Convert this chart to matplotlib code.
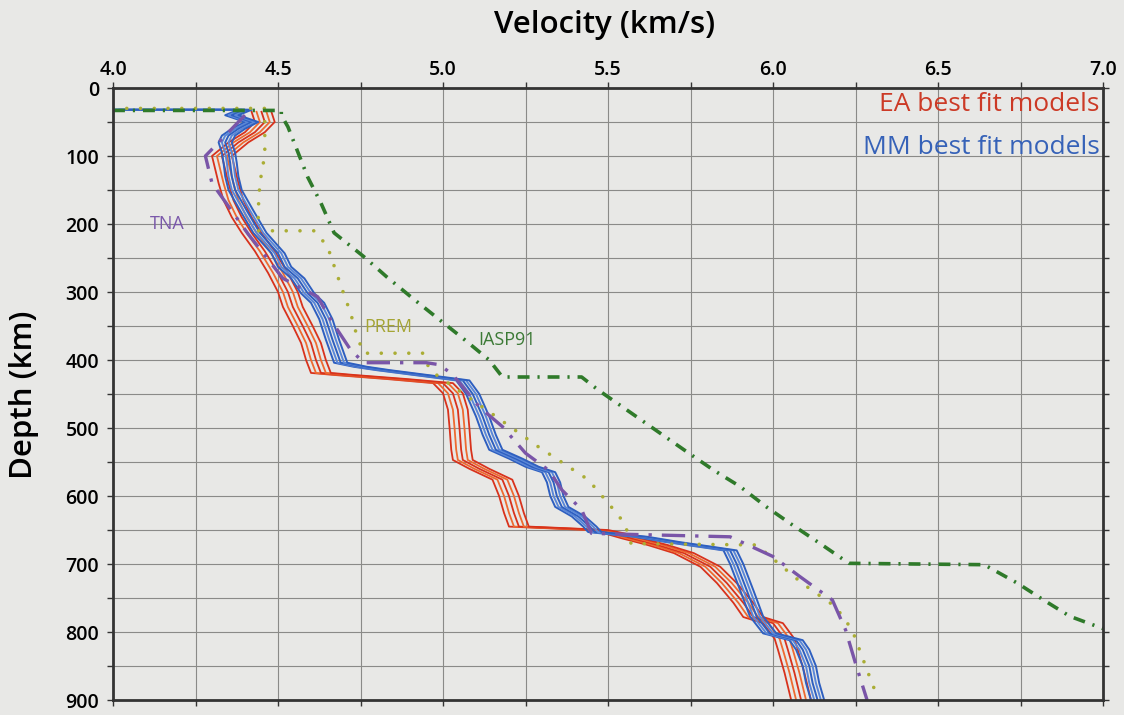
import numpy as np
import matplotlib
matplotlib.use('Agg')
import matplotlib.pyplot as plt

plt.rcParams['font.family'] = ['Open Sans', 'DejaVu Sans']

# ---- reference models (velocity km/s, depth km) ----
iasp_v = [4.00, 4.51, 4.51, 4.53, 4.59, 4.63, 4.67, 4.76, 4.83, 4.91, 4.99, 5.06, 5.14, 5.18,
          5.42, 5.47, 5.60, 5.73, 5.82, 5.90, 5.98, 6.06, 6.14, 6.23, 6.64, 6.74, 6.82, 6.90, 7.00]
iasp_d = [33, 33, 40, 57, 131, 169, 213, 248, 278, 310, 341, 368, 400, 425,
          425, 444, 488, 532, 562, 586, 616, 643, 669, 699, 701, 728, 753, 777, 795]

prem_v = [4.00, 4.46, 4.46, 4.445, 4.44, 4.44, 4.61, 4.65, 4.69, 4.72, 4.74, 4.76, 4.94, 4.96,
          5.06, 5.16, 5.29, 5.44, 5.51, 5.55, 5.57, 5.95, 6.09, 6.19, 6.24, 6.285, 6.32]
prem_d = [30, 30, 98, 140, 180, 210, 210, 233, 290, 331, 366, 390, 390, 415,
          449, 483, 528, 576, 616, 640, 670, 672, 729, 763, 797, 856, 900]

tna_v = [4.40, 4.28, 4.30, 4.41, 4.515, 4.62, 4.66, 4.72, 4.76, 4.95, 4.99, 5.03, 5.11, 5.18,
         5.25, 5.32, 5.36, 5.42, 5.45, 5.87, 6.00, 6.08, 6.18, 6.22, 6.25, 6.285]
tna_d = [40, 100, 140, 215, 280, 307, 341, 385, 404, 404, 407, 422, 469, 498,
         537, 562, 591, 620, 655, 660, 689, 718, 753, 797, 846, 900]

# ---- best fit models (centre profile + spread of the bundle) ----
ea_d = [35, 50, 65, 80, 100, 120, 140, 165, 190, 213, 240, 272, 300, 322, 350, 375, 400, 419,
        422, 425, 428, 431, 434, 449, 473, 500, 532, 547, 560, 576, 600, 625, 645, 650, 655,
        662, 672, 684, 704, 728, 757, 778, 787, 810, 826, 860, 900]
ea_v = [4.45, 4.46, 4.43, 4.38, 4.33, 4.34, 4.35, 4.365, 4.39, 4.42, 4.46, 4.50, 4.53, 4.545,
        4.575, 4.60, 4.615, 4.63, 4.70, 4.78, 4.86, 4.93, 5.00, 5.03, 5.045, 5.05, 5.055, 5.06,
        5.11, 5.18, 5.20, 5.215, 5.23, 5.47, 5.52, 5.57, 5.65, 5.73, 5.81, 5.86, 5.91, 5.94,
        6.00, 6.035, 6.045, 6.065, 6.085]
ea_dv = [-0.03, -0.015, 0.0, 0.015, 0.03]

mm_d = [32, 32, 40, 50, 60, 70, 80, 95, 110, 130, 150, 180, 213, 243, 263, 280, 302, 316, 340,
        370, 404, 410, 415, 420, 425, 430, 450, 483, 510, 532, 545, 557, 565, 580, 600, 616,
        630, 645, 653, 660, 668, 675, 680, 700, 738, 777, 802, 812, 826, 850, 875, 900]
mm_v = [4.00, 4.40, 4.36, 4.42, 4.38, 4.35, 4.34, 4.35, 4.355, 4.36, 4.37, 4.405, 4.445, 4.50,
        4.52, 4.56, 4.59, 4.62, 4.645, 4.665, 4.69, 4.75, 4.82, 4.90, 4.98, 5.06, 5.09, 5.12,
        5.14, 5.16, 5.22, 5.27, 5.32, 5.335, 5.345, 5.36, 5.41, 5.445, 5.46, 5.60, 5.70, 5.80,
        5.87, 5.89, 5.92, 5.95, 5.99, 6.07, 6.09, 6.11, 6.12, 6.135]
mm_dv = [-0.02, -0.01, 0.0, 0.01, 0.02]

bg = '#e8e8e6'
fig = plt.figure(figsize=(11.24, 7.15), dpi=100, facecolor=bg)
ax = fig.add_axes([113/1124, 15/715, 990/1124, 612/715], facecolor=bg)

ea_cols = ['#d8321c', '#ee6a30']
for i, dv in enumerate(ea_dv):
    ax.plot(np.array(ea_v) + dv, ea_d, color=ea_cols[i % 2], lw=1.3)

mm_cols = ['#2e5fc0', '#5a87d8']
for i, dv in enumerate(mm_dv):
    ax.plot(np.array(mm_v) + dv, mm_d, color=mm_cols[i % 2], lw=1.4)

ax.plot(prem_v, prem_d, color='#aaad35', lw=2.6, linestyle=(0, (0.01, 3.8)),
        dash_capstyle='round')
ax.plot(tna_v, tna_d, color='#7a55a8', lw=2.4, linestyle=(0, (7, 3, 1, 3)))
ax.plot(iasp_v, iasp_d, color='#2f7a2a', lw=2.6, linestyle=(0, (3.3, 2.2, 0.6, 2.2)))

ax.text(4.165, 200, 'TNA', color='#7a58aa', fontsize=13, ha='center', va='center')
ax.text(4.835, 352, 'PREM', color='#a5a535', fontsize=13, ha='center', va='center')
ax.text(5.195, 370, 'IASP91', color='#3c7a36', fontsize=13, ha='center', va='center')
ax.text(6.99, 24, 'EA best fit models', color='#cc3a26', fontsize=19, ha='right', va='center')
ax.text(6.99, 87, 'MM best fit models', color='#3662b8', fontsize=19, ha='right', va='center')

ax.set_xlim(4.0, 7.0)
ax.set_ylim(900, 0)
ax.set_xticks(np.arange(4.0, 7.01, 0.5))
ax.set_xticks(np.arange(4.0, 7.01, 0.25), minor=True)
ax.set_yticks(np.arange(0, 901, 100))
ax.set_yticks(np.arange(0, 901, 50), minor=True)
ax.xaxis.set_major_formatter(matplotlib.ticker.FormatStrFormatter('%.1f'))
ax.grid(which='both', color='#8a8a88', lw=0.8)
ax.set_axisbelow(True)
ax.tick_params(which='both', direction='out', length=4, width=1, color='#333333',
               top=True, bottom=True, left=True, right=True,
               labeltop=True, labelbottom=False, labelleft=True, labelright=False)
ax.tick_params(axis='x', pad=2, labelsize=14)
ax.tick_params(axis='y', pad=6, labelsize=14)
for lab in ax.get_xticklabels() + ax.get_yticklabels():
    lab.set_fontweight('semibold')
for s in ax.spines.values():
    s.set_linewidth(2)
    s.set_color('#333333')

fig.text(605/1124, 1 - 25/715, 'Velocity (km/s)', fontsize=22.5, fontweight='semibold',
         ha='center', va='center')
fig.text(24/1124, 1 - 395/715, 'Depth (km)', fontsize=22.5, fontweight='semibold',
         ha='center', va='center', rotation=90)

fig.savefig('out.png', dpi=100, facecolor=bg)
